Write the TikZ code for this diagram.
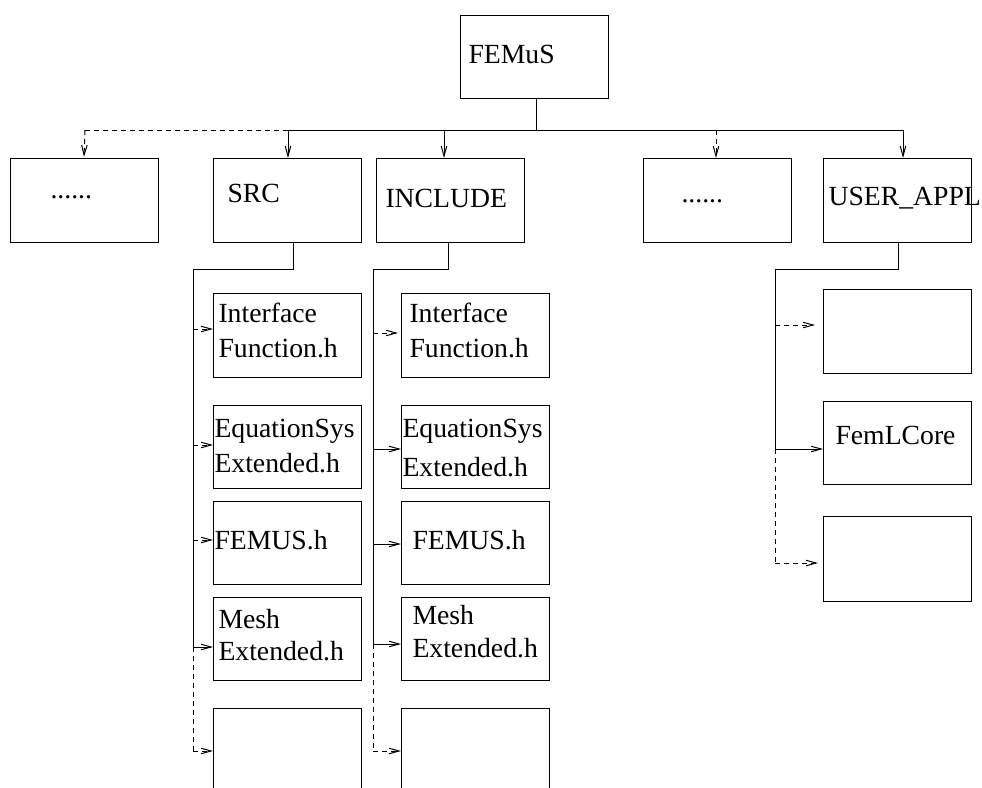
\documentclass[tikz,border=0pt]{standalone}
\usepackage{fontspec}
\setmainfont{Liberation Serif}
\usetikzlibrary{arrows.meta}
\begin{document}
\begin{tikzpicture}[x=1pt,y=-1pt,
  line width=1pt,
  box/.style={draw, rectangle, line width=1pt, minimum width=148pt, minimum height=84pt, inner sep=0pt, anchor=north west},
  txt/.style={anchor=base west, inner sep=0pt, font=\fontsize{27.7}{33}\selectfont},
  arr/.style={-{Straight Barb[length=10pt,width=5.5pt]}},
  dsh/.style={dash pattern=on 5pt off 4pt}]
\clip (0,0) rectangle (982,787);
\useasboundingbox (0,0) rectangle (982,787);
% boxes
\node[box, minimum height=83pt] (femus) at (460,15) {};
\node[box] (dots1) at (10,158) {};
\node[box] (src) at (213,158) {};
\node[box] (incl) at (376,158) {};
\node[box] (dots2) at (643,158) {};
\node[box] (user) at (823,158) {};
\node[box] (s1) at (213,293) {};
\node[box, minimum height=83pt] (s2) at (213,405) {};
\node[box, minimum height=83pt] (s3) at (213,501) {};
\node[box, minimum height=83pt] (s4) at (213,597) {};
\node[box] (s5) at (213,708) {};
\node[box] (i1) at (401,293) {};
\node[box, minimum height=83pt] (i2) at (401,405) {};
\node[box, minimum height=83pt] (i3) at (401,501) {};
\node[box, minimum height=83pt] (i4) at (401,597) {};
\node[box] (i5) at (401,708) {};
\node[box] (u1) at (823,289) {};
\node[box, minimum height=83pt] (u2) at (823,401) {};
\node[box, minimum height=85pt] (u3) at (823,516) {};
% texts
\node[txt] (tfemus) at (468,63) {FEMuS};
\node[txt] (tdots1) at (50,198) {......};
\node[txt] (tsrc) at (227,202) {SRC};
\node[txt] (tincl) at (385,207) {INCLUDE};
\node[txt] (tdots2) at (681,202) {......};
\node[txt] (tuser) at (828,205) {USER\_APPL};
\node[txt] (ts1a) at (218,322) {Interface};
\node[txt] (ts1b) at (218,357) {Function.h};
\node[txt] (ts2a) at (214,437) {EquationSys};
\node[txt] (ts2b) at (214,472) {Extended.h};
\node[txt] (ts3) at (214,549) {FEMUS.h};
\node[txt] (ts4a) at (218,628) {Mesh};
\node[txt] (ts4b) at (218,660) {Extended.h};
\node[txt] (ti1a) at (409,322) {Interface};
\node[txt] (ti1b) at (409,357) {Function.h};
\node[txt] (ti2a) at (402,437) {EquationSys};
\node[txt] (ti2b) at (402,476) {Extended.h};
\node[txt] (ti3) at (412,549) {FEMUS.h};
\node[txt] (ti4a) at (412,624) {Mesh};
\node[txt] (ti4b) at (412,657) {Extended.h};
\node[txt] (tu2) at (835,444) {FemLCore};
% top bus
\coordinate (hub) at (536,130);
\coordinate (b0) at (85,130);
\coordinate (b1) at (288,130);
\coordinate (b2) at (444,130);
\coordinate (b3) at (716,130);
\coordinate (b4) at (903,130);
\draw (femus.south -| hub) -- (hub);
\draw (b1) -- (b4);
\draw[dsh] (b1) -- (b0);
\draw[arr, dsh] (b0) -- (84,157);
\draw[arr] (b1) -- (b1 |- src.north);
\draw[arr] (b2) -- (b2 |- incl.north);
\draw[arr, dsh] (b3) -- (b3 |- dots2.north);
\draw[arr] (b4) -- (b4 |- user.north);
% SRC column
\coordinate (sc) at (293,269);
\coordinate (sv) at (193,269);
\coordinate (sa1) at (193,329);
\coordinate (sa2) at (193,445);
\coordinate (sa3) at (193,540);
\coordinate (sa4) at (193,647);
\coordinate (sa5) at (193,751);
\draw (sc |- src.south) -- (sc) -- (sv) -- (sa4);
\draw[dsh] (sa4) -- (sa5);
\draw[arr, dsh] (sa1) -- (sa1 -| s1.west);
\draw[arr, dsh] (sa2) -- (sa2 -| s2.west);
\draw[arr, dsh] (sa3) -- (sa3 -| s3.west);
\draw[arr] (sa4) -- (sa4 -| s4.west);
\draw[arr, dsh] (sa5) -- (sa5 -| s5.west);
% INCLUDE column
\coordinate (ic) at (448,269);
\coordinate (iv) at (373,269);
\coordinate (ia1) at (373,333);
\coordinate (ia2) at (373,449);
\coordinate (ia3) at (373,544);
\coordinate (ia4) at (373,644);
\coordinate (ia5) at (373,751);
\draw (ic |- incl.south) -- (ic) -- (iv) -- (ia4);
\draw[dsh] (ia4) -- (ia5);
\draw[arr, dsh, shorten >=3pt] (ia1) -- (ia1 -| i1.west);
\draw[arr] (ia2) -- (ia2 -| i2.west);
\draw[arr] (ia3) -- (ia3 -| i3.west);
\draw[arr] (ia4) -- (ia4 -| i4.west);
\draw[arr, dsh] (ia5) -- (ia5 -| i5.west);
% USER_APPL column
\coordinate (uc) at (898,269);
\coordinate (uv) at (775,269);
\coordinate (ua1) at (775,325);
\coordinate (ua2) at (775,449);
\coordinate (ua3) at (775,563);
\draw (uc |- user.south) -- (uc) -- (uv) -- (ua2);
\draw[dsh] (ua2) -- (ua3);
\draw[arr, dsh, shorten >=8pt] (ua1) -- (ua1 -| u1.west);
\draw[arr] (ua2) -- (ua2 -| u2.west);
\draw[arr, dsh, shorten >=5pt] (ua3) -- (ua3 -| u3.west);
\end{tikzpicture}
\end{document}
